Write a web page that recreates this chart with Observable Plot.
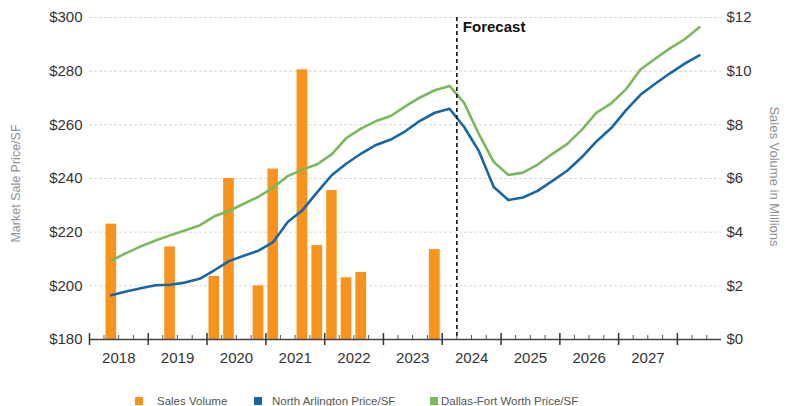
<!DOCTYPE html>
<html>
<head>
<meta charset="utf-8">
<script src="https://cdn.jsdelivr.net/npm/d3@7"></script>
<script src="https://cdn.jsdelivr.net/npm/@observablehq/plot@0.6"></script>
<style>
  html, body { margin: 0; padding: 0; background: #fff; }
  #wrap { width: 788px; height: 406px; position: relative; overflow: hidden; font-family: "Liberation Sans", Arial, sans-serif; }
  #legend { position: absolute; left: 0; top: 365px; width: 788px; height: 41px; }
  .sw { position: absolute; width: 8px; height: 8px; top: 32px; }
  .lt { position: absolute; top: 29px; font-size: 11.5px; color: #555; white-space: nowrap; line-height: 14px; }
</style>
</head>
<body>
<div id="wrap">
  <div id="chart"></div>
  <div id="legend"></div>
</div>
<script>
// ---------- data ----------
const lineQuarters = [
  "2018-Q2","2018-Q3","2018-Q4",
  "2019-Q1","2019-Q2","2019-Q3","2019-Q4",
  "2020-Q1","2020-Q2","2020-Q3","2020-Q4",
  "2021-Q1","2021-Q2","2021-Q3","2021-Q4",
  "2022-Q1","2022-Q2","2022-Q3","2022-Q4",
  "2023-Q1","2023-Q2","2023-Q3","2023-Q4",
  "2024-Q1","2024-Q2","2024-Q3","2024-Q4",
  "2025-Q1","2025-Q2","2025-Q3","2025-Q4",
  "2026-Q1","2026-Q2","2026-Q3","2026-Q4",
  "2027-Q1","2027-Q2","2027-Q3","2027-Q4",
  "2028-Q1","2028-Q2"
];
const northArlington = [
  196.5, 197.9, 199.1,
  200.2, 200.4, 201.2, 202.6,
  205.8, 209.2, 211.2, 213.1,
  216.3, 223.8, 228.2, 234.9,
  241.3, 245.6, 249.3, 252.5,
  254.5, 257.6, 261.5, 264.5,
  266.0, 259.2, 250.2, 236.8,
  232.0, 232.9, 235.4, 239.1,
  242.9, 247.9, 253.8, 258.8,
  265.4, 271.2, 275.3, 279.2,
  282.8, 285.9
];
const dallasFortWorth = [
  209.4, 212.2, 214.7,
  216.9, 218.8, 220.6, 222.5,
  225.9, 227.9, 230.6, 233.2,
  236.6, 240.9, 243.3, 245.3,
  249.1, 255.1, 258.7, 261.4,
  263.3, 266.9, 270.2, 272.9,
  274.5, 268.2, 256.5, 246.2,
  241.3, 242.2, 245.2, 249.2,
  252.8, 258.1, 264.5, 268.0,
  273.2, 280.6, 284.6, 288.5,
  291.9, 296.4
];
const barQuarters = ["2018-Q2","2019-Q2","2020-Q1","2020-Q2","2020-Q4","2021-Q1","2021-Q3","2021-Q4","2022-Q1","2022-Q2","2022-Q3","2023-Q4"];
const salesVolume = [4.3, 3.45, 2.35, 6.0, 2.0, 6.35, 10.05, 3.5, 5.55, 2.3, 2.5, 3.35]; // $ millions
const priceTicks = [180, 200, 220, 240, 260, 280, 300];
const yearLabels = ["2018","2019","2020","2021","2022","2023","2024","2025","2026","2027"];
const forecastStart = "2024-04-01";
const seriesNames = ["Sales Volume", "North Arlington Price/SF", "Dallas-Fort Worth Price/SF"];
const colors = {orange: "#f7931e", blue: "#1766a6", green: "#78b95b"};

// ---------- helpers ----------
function qStart(s) { const [y, q] = s.split("-Q"); return new Date(Date.UTC(+y, (+q - 1) * 3, 1)); }
function qEnd(s) { const [y, q] = s.split("-Q"); return new Date(Date.UTC(+y, (+q) * 3, 1)); }
function qMid(s) { return new Date((qStart(s).getTime() + qEnd(s).getTime()) / 2); }
// volume ($M) drawn on the price scale: $0 -> 180, $12 -> 300
const volToPrice = v => 180 + v * 10;

const lines = [];
lineQuarters.forEach((q, i) => {
  lines.push({date: qMid(q), value: northArlington[i], series: seriesNames[1]});
  lines.push({date: qMid(q), value: dallasFortWorth[i], series: seriesNames[2]});
});
const bars = barQuarters.map((q, i) => ({x1: qStart(q), x2: qEnd(q), v: salesVolume[i]}));

const yearStarts = d3.range(2018, 2029).map(y => new Date(Date.UTC(y, 0, 1)));
const quarterTicks = d3.utcMonth.every(3).range(new Date(Date.UTC(2018, 0, 1)), new Date(Date.UTC(2028, 8, 1)))
  .filter(d => d.getUTCMonth() !== 0);
const yearMids = yearLabels.map(y => new Date(Date.UTC(+y, 6, 2)));
const fDate = new Date(forecastStart + "T00:00:00Z");

const chart = Plot.plot({
  width: 788,
  height: 365,
  marginLeft: 89,
  marginRight: 67,
  marginTop: 17,
  marginBottom: 26,
  style: {fontFamily: "'Liberation Sans', Arial, sans-serif", fontSize: "15px", color: "#333", background: "#fff"},
  x: {type: "utc", domain: [new Date(Date.UTC(2018, 0, 1)), new Date(Date.UTC(2028, 9, 1))]},
  y: {domain: [180, 300]},
  color: {domain: seriesNames.slice(1), range: [colors.blue, colors.green]},
  marks: [
    Plot.ruleY(priceTicks.filter(d => d > 180), {stroke: "#d6d6d6", strokeDasharray: "3,2", strokeWidth: 1}),
    Plot.rect(bars, {x1: "x1", x2: "x2", y1: 180, y2: d => volToPrice(d.v), fill: colors.orange, insetLeft: 2, insetRight: 2}),
    Plot.line(lines, {x: "date", y: "value", z: "series", stroke: "series", strokeWidth: 2.6, curve: "linear"}),
    Plot.ruleX([fDate], {stroke: "#111", strokeWidth: 1.6, strokeDasharray: "4,3"}),
    Plot.text(["Forecast"], {x: () => fDate, y: () => 300, dx: 6, dy: 10, textAnchor: "start", fontWeight: "bold", fontSize: 15, fill: "#111"}),
    // x axis line + ticks
    Plot.ruleY([180], {stroke: "#444", strokeWidth: 1.3}),
    Plot.ruleX(yearStarts, {y1: 180, y2: 180, insetTop: 6, insetBottom: 6, stroke: "#333", strokeWidth: 1.5}),
    Plot.ruleX(quarterTicks, {y1: 180, y2: 180, insetTop: 0, insetBottom: 4, stroke: "#555", strokeWidth: 1}),
    Plot.axisX({ticks: yearMids, tickFormat: d => String(d.getUTCFullYear()), tickSize: 0, tickPadding: 13, fontSize: 15, fill: "#333"}),
    Plot.axisY({anchor: "left", ticks: priceTicks, tickFormat: d => "$" + d, tickSize: 0, tickPadding: 7, fontSize: 15, fill: "#333", label: null}),
    Plot.axisY({anchor: "right", ticks: priceTicks, tickFormat: d => "$" + ((d - 180) / 10), tickSize: 0, tickPadding: 5, fontSize: 15, fill: "#333", label: null}),
    Plot.text(["Market Sale Price/SF"], {frameAnchor: "left", textAnchor: "middle", rotate: -90, dx: -74, dy: 5, fontSize: 12.5, fill: "#8a93a0"}),
    Plot.text(["Sales Volume in Millions"], {frameAnchor: "right", textAnchor: "middle", rotate: 90, dx: 53, dy: -2, fontSize: 13, fill: "#8f8f8f"})
  ]
});
document.getElementById("chart").appendChild(chart);

// legend
const legendItems = [
  {name: seriesNames[0], color: colors.orange, sx: 135, tx: 157},
  {name: seriesNames[1], color: colors.blue, sx: 254, tx: 272},
  {name: seriesNames[2], color: colors.green, sx: 430, tx: 441}
];
const leg = document.getElementById("legend");
legendItems.forEach(it => {
  const s = document.createElement("div");
  s.className = "sw"; s.style.left = it.sx + "px"; s.style.background = it.color;
  leg.appendChild(s);
  const t = document.createElement("div");
  t.className = "lt"; t.style.left = it.tx + "px"; t.textContent = it.name;
  leg.appendChild(t);
});
</script>
</body>
</html>
